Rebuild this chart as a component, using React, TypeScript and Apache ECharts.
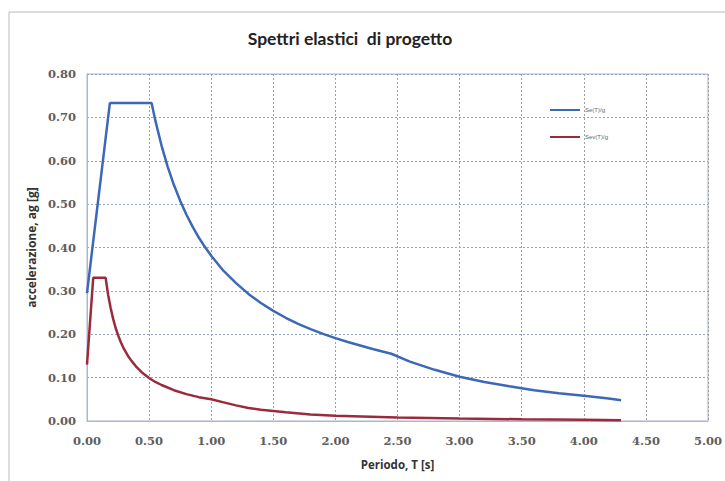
import React, { useEffect, useRef } from "react";
import * as echarts from "echarts";

const title = "Spettri elastici  di progetto";
const xName = "Periodo, T [s]";
const yName = "accelerazione, ag [g]";
const seriesNames = ["Se(T)/g", "Sev(T)/g"];

const seT = [0, 0.184, 0.52, 0.55, 0.6, 0.65, 0.7, 0.75, 0.8, 0.85, 0.9, 0.95, 1.0, 1.1, 1.2, 1.3, 1.4, 1.5, 1.6, 1.7, 1.8, 1.9, 2.0, 2.1, 2.2, 2.3, 2.45, 2.6, 2.8, 3.0, 3.2, 3.4, 3.6, 3.8, 4.0, 4.2, 4.3];
const seV = [0.295, 0.733, 0.733, 0.693, 0.635, 0.586, 0.544, 0.508, 0.476, 0.448, 0.423, 0.401, 0.381, 0.346, 0.318, 0.293, 0.272, 0.254, 0.238, 0.224, 0.212, 0.201, 0.191, 0.182, 0.174, 0.166, 0.155, 0.137, 0.118, 0.102, 0.090, 0.080, 0.071, 0.064, 0.058, 0.052, 0.048];

const sevT = [0, 0.05, 0.15, 0.17, 0.19, 0.21, 0.23, 0.25, 0.275, 0.3, 0.33, 0.36, 0.4, 0.45, 0.5, 0.55, 0.6, 0.7, 0.8, 0.9, 1.0, 1.1, 1.2, 1.3, 1.4, 1.6, 1.8, 2.0, 2.5, 3.0, 3.5, 4.0, 4.3];
const sevV = [0.13, 0.33, 0.33, 0.291, 0.261, 0.236, 0.215, 0.198, 0.18, 0.165, 0.15, 0.138, 0.124, 0.11, 0.099, 0.09, 0.083, 0.071, 0.062, 0.055, 0.05, 0.043, 0.036, 0.030, 0.026, 0.02, 0.015, 0.012, 0.008, 0.0055, 0.004, 0.003, 0.002];

const pairs = (xs: number[], ys: number[]) => xs.map((x, i) => [x, ys[i]]);

export default function App() {
  const ref = useRef<HTMLDivElement>(null);
  useEffect(() => {
    if (!ref.current) return;
    const chart = echarts.init(ref.current, null, { renderer: "svg" });
    const tickFont = {
      fontFamily: "DejaVu Serif",
      fontWeight: "bold" as const,
      fontSize: 11.5,
      color: "#5e5e5e",
    };
    chart.setOption({
      animation: false,
      backgroundColor: "#ffffff",
      graphic: [
        {
          type: "rect",
          shape: { x: 9, y: 12, width: 760, height: 520 },
          style: { fill: "none", stroke: "#b8bcc4", lineWidth: 1 },
          silent: true,
        },
        {
          type: "text",
          x: 350,
          y: 38,
          style: {
            text: title,
            fontFamily: "Lato",
            fontWeight: "bold",
            fontSize: 17.5,
            fill: "#222",
            textAlign: "center",
            textVerticalAlign: "middle",
          },
        },
      ],
      grid: {
        left: 87,
        right: 13,
        top: 74,
        bottom: 60,
        show: true,
        borderColor: "#a9b6d0",
        borderWidth: 1,
      },
      legend: {
        orient: "vertical",
        left: 545,
        top: 102,
        icon: "rect",
        itemWidth: 30,
        itemHeight: 2,
        itemGap: 21,
        textStyle: { fontSize: 6, color: "#666", fontFamily: "Liberation Sans" },
        data: seriesNames,
      },
      xAxis: {
        type: "value",
        min: 0,
        max: 5,
        interval: 0.5,
        name: xName,
        nameLocation: "middle",
        nameGap: 37,
        nameTextStyle: { fontFamily: "Open Sans", fontWeight: "bold", fontSize: 11.5, color: "#333" },
        axisLine: { show: true, lineStyle: { color: "#a9b6d0" } },
        axisTick: { show: false },
        axisLabel: { ...tickFont, margin: 14, formatter: (v: number) => v.toFixed(2) },
        splitLine: { show: true, lineStyle: { color: "#a0a0a0", type: [2, 2], width: 1 } },
      },
      yAxis: {
        type: "value",
        min: 0,
        max: 0.8,
        interval: 0.1,
        name: yName,
        nameLocation: "middle",
        nameGap: 37,
        nameTextStyle: { fontFamily: "Open Sans", fontWeight: "bold", fontSize: 12, color: "#333" },
        axisLine: { show: true, lineStyle: { color: "#a9b6d0" } },
        axisTick: { show: false },
        axisLabel: { ...tickFont, margin: 11, formatter: (v: number) => v.toFixed(2) },
        splitLine: { show: true, lineStyle: { color: "#92a3c8", type: [2, 2], width: 1 } },
      },
      series: [
        {
          name: seriesNames[0],
          type: "line",
          data: pairs(seT, seV),
          symbol: "none",
          smooth: false,
          lineStyle: { color: "#3d68b8", width: 2.5 },
          itemStyle: { color: "#3d68b8" },
        },
        {
          name: seriesNames[1],
          type: "line",
          data: pairs(sevT, sevV),
          symbol: "none",
          smooth: false,
          lineStyle: { color: "#9a2b3c", width: 2.5 },
          itemStyle: { color: "#9a2b3c" },
        },
      ],
    });
    return () => chart.dispose();
  }, []);
  return (
    <div
      ref={ref}
      style={{ position: "absolute", left: 0, top: 0, width: 725, height: 481 }}
    />
  );
}
